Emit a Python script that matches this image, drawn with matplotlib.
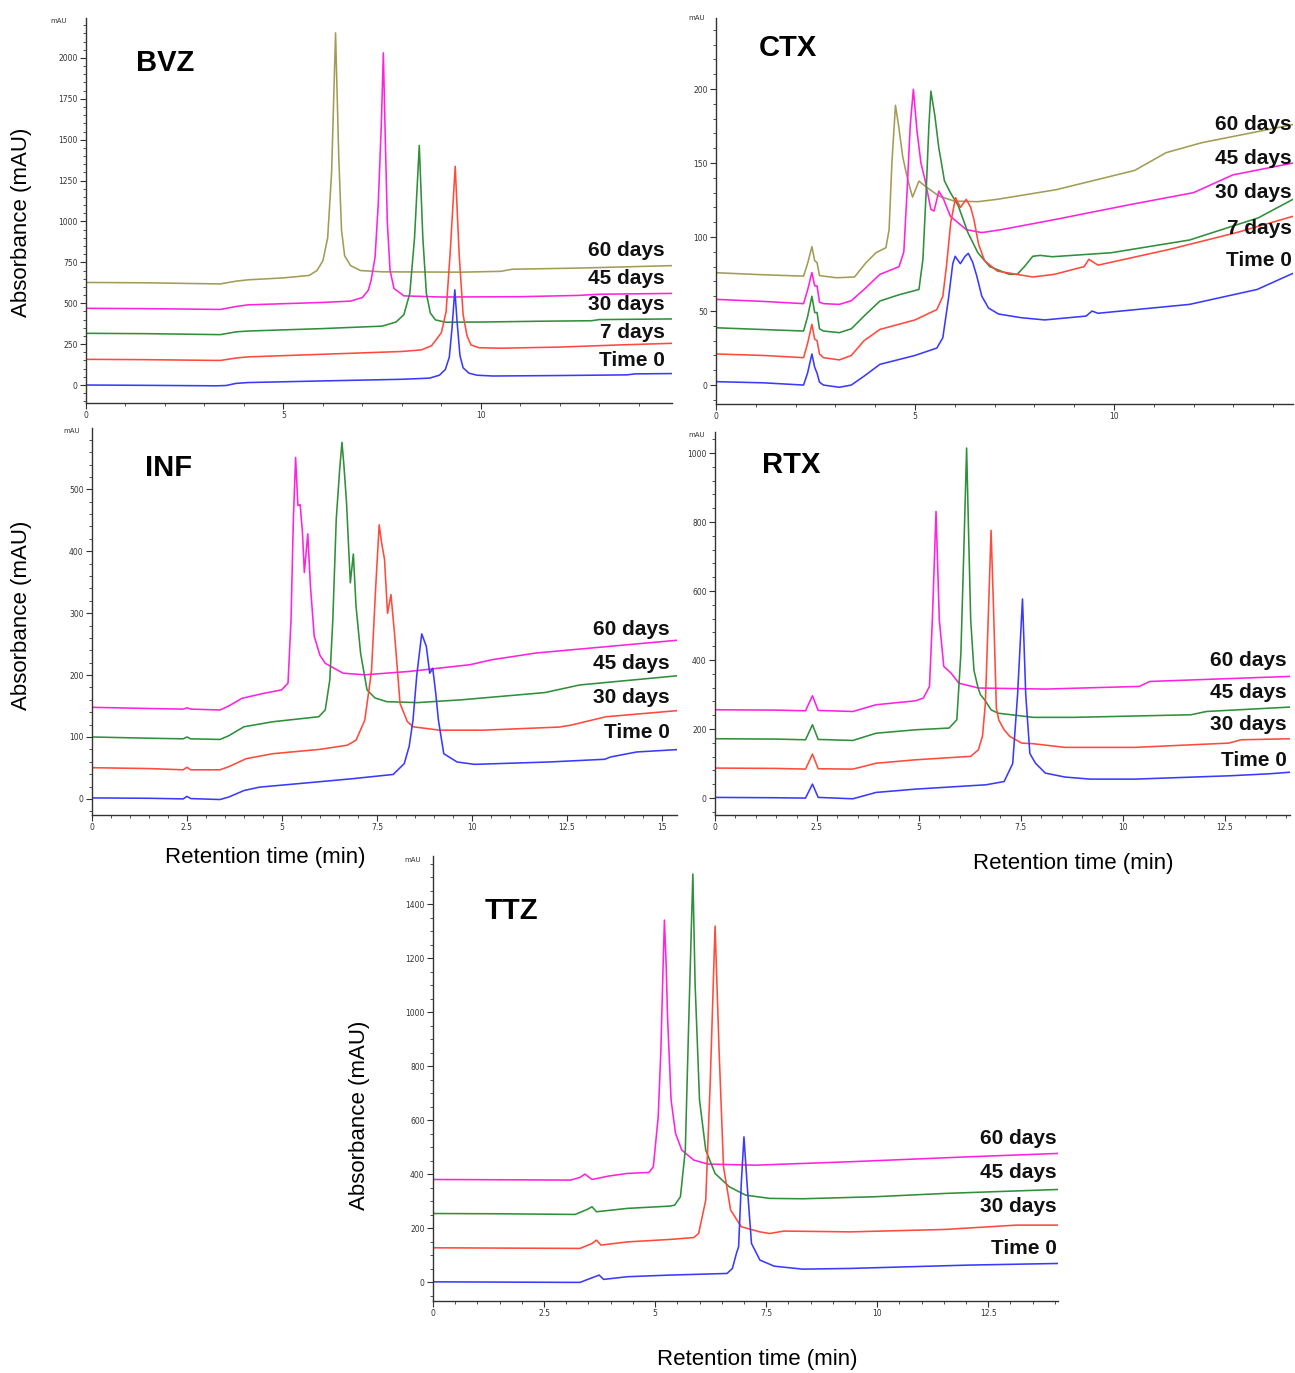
import matplotlib
matplotlib.use("Agg")
import matplotlib.pyplot as plt
from matplotlib.ticker import MultipleLocator, FuncFormatter

W, H = 1295, 1373

# colours used by the instrument software
OLIVE = '#a39c55'
MAGENTA = '#ff22e0'
GREEN = '#2f8f3a'
RED = '#ff4a3c'
BLUE = '#3a3aff'

# ---- BVZ traces (time min, absorbance mAU) ----
bvz_time0 = [(0, 0), (1.5, -2), (3.3, -5), (3.55, -3), (3.8, 10), (4.1, 15), (6, 25), (8, 35), (8.7, 42),
             (8.95, 60), (9.1, 95), (9.2, 170), (9.27, 350), (9.34, 582), (9.4, 380), (9.47, 180), (9.55, 105),
             (9.7, 72), (9.9, 60), (10.3, 55), (12, 58), (13.7, 62), (13.9, 68), (14.85, 70)]
bvz_7days = [(0, 157), (1.5, 155), (3.4, 150), (3.8, 165), (4.1, 172), (6, 188), (8, 205), (8.5, 215), (8.75, 240),
             (9.0, 320), (9.12, 450), (9.22, 800), (9.35, 1337), (9.45, 800), (9.55, 430), (9.65, 300), (9.75, 245),
             (9.95, 228), (10.5, 225), (12, 232), (13.5, 245), (14.85, 255)]
bvz_30days = [(0, 316), (1.5, 314), (3.4, 308), (3.8, 325), (4.1, 330), (6, 345), (7.5, 360), (7.85, 385),
              (8.05, 430), (8.2, 560), (8.32, 900), (8.44, 1465), (8.53, 900), (8.62, 560), (8.72, 440), (8.85, 398),
              (9.1, 384), (10, 385), (11.5, 390), (12.8, 393), (13, 400), (14.85, 404)]
bvz_45days = [(0, 469), (1.5, 467), (3.4, 462), (3.8, 480), (4.1, 490), (6, 505), (6.7, 513), (7.0, 535),
              (7.15, 580), (7.22, 640), (7.32, 780), (7.4, 1100), (7.48, 1600), (7.53, 2031), (7.58, 1500),
              (7.63, 1000), (7.7, 700), (7.8, 590), (8.05, 545), (9, 538), (11, 540), (12.5, 548), (13, 555),
              (14.85, 560)]
bvz_60days = [(0, 627), (1.5, 625), (3.4, 618), (3.8, 635), (4.1, 643), (5.0, 655), (5.65, 670), (5.85, 700),
              (6.0, 760), (6.12, 900), (6.22, 1300), (6.32, 2153), (6.4, 1400), (6.47, 950), (6.55, 790),
              (6.7, 730), (6.95, 700), (7.5, 692), (9.5, 690), (10.5, 695), (10.8, 708), (12.5, 715), (14.85, 730)]

# ---- CTX traces ----
ctx_time0 = [(0, 2.3), (1.2, 1.5), (2.2, 0), (2.3, 8), (2.41, 21), (2.48, 12), (2.54, 8), (2.6, 2), (2.7, 0),
             (3.1, -1.5), (3.4, 0), (3.72, 6), (4.12, 14), (5.0, 20), (5.55, 25), (5.7, 32), (5.84, 58), (5.95, 82),
             (6.01, 87), (6.14, 82), (6.26, 87), (6.34, 89), (6.45, 83), (6.55, 74), (6.68, 60), (6.85, 52),
             (7.1, 48), (7.67, 45.5), (8.26, 44), (9.3, 46.6), (9.45, 50), (9.6, 48.5), (11.9, 54.5), (13.6, 64.6),
             (14.5, 75.5)]
ctx_7days = [(0, 21), (1.2, 20), (2.2, 18.5), (2.3, 28), (2.41, 41), (2.48, 31), (2.54, 30), (2.6, 21), (2.7, 18.5),
             (3.1, 17), (3.4, 20), (3.72, 30), (4.12, 37.6), (5.0, 44), (5.55, 51), (5.7, 60), (5.79, 80),
             (5.9, 110), (6.02, 126.6), (6.14, 120), (6.29, 125.5), (6.4, 120), (6.48, 112), (6.6, 95), (6.75, 84),
             (7.07, 77), (7.96, 73), (8.5, 74.8), (9.25, 80), (9.37, 85), (9.6, 81), (11.4, 91.7), (13.08, 103),
             (14.5, 114)]
ctx_30days = [(0, 38.7), (1.2, 37.5), (2.2, 36.5), (2.3, 46), (2.41, 60), (2.48, 49), (2.54, 49), (2.6, 38),
              (2.7, 36.5), (3.1, 35.4), (3.4, 38), (3.72, 46.6), (4.12, 56.8), (4.6, 61), (5.1, 64.6), (5.2, 85),
              (5.28, 130), (5.35, 175), (5.40, 198.6), (5.5, 182), (5.6, 160), (5.65, 152.5), (5.74, 138),
              (5.89, 130), (6.09, 121), (6.33, 103), (6.58, 89.4), (6.88, 80), (7.37, 74.8), (7.57, 74.8),
              (7.75, 80), (7.96, 87), (8.15, 87.6), (8.45, 86.7), (9.93, 89.4), (11.9, 98), (13.63, 113),
              (14.5, 125.5)]
ctx_45days = [(0, 57.9), (1.2, 56.5), (2.2, 55), (2.3, 64), (2.41, 76), (2.48, 67), (2.54, 67), (2.6, 56),
              (2.7, 55), (3.1, 54.5), (3.4, 57), (3.72, 64.6), (4.12, 74.8), (4.6, 80), (4.72, 90), (4.8, 130),
              (4.88, 175), (4.96, 199.8), (5.05, 172), (5.15, 150), (5.25, 139), (5.4, 118.7), (5.48, 117.6),
              (5.6, 131), (5.72, 125.5), (5.89, 114), (6.29, 105), (6.68, 103), (7.17, 105), (8.55, 112),
              (10.42, 122), (12.0, 130), (12.99, 142), (14.5, 150)]
ctx_60days = [(0, 75.9), (1.2, 74.5), (2.2, 73.6), (2.3, 82), (2.41, 93.5), (2.48, 84), (2.54, 82.7), (2.6, 74),
              (2.7, 73.6), (3.03, 72.5), (3.48, 73), (3.77, 82.7), (4.02, 89.4), (4.27, 92.8), (4.35, 105),
              (4.42, 150), (4.51, 189), (4.59, 175), (4.69, 154.7), (4.76, 145.7), (4.86, 134.5), (4.94, 127),
              (5.10, 137.8), (5.25, 134.5), (5.6, 127.7), (5.99, 124.3), (6.58, 123.9), (7.07, 125.5), (8.55, 132),
              (10.52, 145), (11.31, 157), (12.2, 163.7), (14.5, 176)]

# ---- INF traces ----
inf_time0 = [(0, 1.6), (1.5, 1), (2.4, 0), (2.5, 4), (2.6, 0.5), (3.37, -1), (3.6, 3), (4.0, 13.5), (4.41, 19),
             (5.5, 25), (6.84, 32.5), (7.93, 39.5), (8.22, 57), (8.35, 85), (8.45, 127), (8.55, 200), (8.68, 266.5),
             (8.8, 246.5), (8.89, 203), (8.97, 211), (9.05, 170), (9.12, 127), (9.26, 73), (9.61, 59.6),
             (10.07, 55.8), (12.03, 59.6), (13.5, 64), (13.65, 67.7), (14.34, 75.8), (15.4, 79.6)]
inf_30days = [(0, 50.4), (1.5, 49), (2.4, 47), (2.5, 51), (2.6, 47), (3.37, 47), (3.6, 52), (4.06, 65),
              (4.76, 73), (6.0, 80), (6.72, 86.7), (6.95, 94.8), (7.18, 127), (7.3, 180), (7.36, 208.5),
              (7.47, 344), (7.56, 442.6), (7.62, 415), (7.70, 387), (7.78, 299.6), (7.87, 330), (7.97, 262.7),
              (8.11, 154), (8.3, 125), (8.45, 116.5), (9.15, 111), (10.3, 111), (12.3, 116), (12.6, 119),
              (13.53, 132.7), (15.4, 142.5)]
inf_45days = [(0, 100), (1.5, 98), (2.4, 97), (2.5, 100), (2.6, 97), (3.37, 96), (3.6, 102), (4.0, 116.5),
              (4.76, 124.6), (5.97, 132.7), (6.14, 143.6), (6.26, 192), (6.34, 290), (6.43, 452), (6.52, 532),
              (6.58, 575.8), (6.63, 540), (6.70, 479), (6.80, 349), (6.88, 395.5), (6.95, 311.5), (7.07, 235.6),
              (7.24, 176), (7.45, 163), (7.76, 157), (8.57, 155.5), (9.72, 160), (11.92, 171.7), (12.84, 184),
              (15.4, 198.8)]
inf_60days = [(0, 147.9), (1.5, 146), (2.4, 145), (2.5, 147), (2.6, 145), (3.37, 143.6), (3.6, 150),
              (3.95, 162.5), (4.53, 170.6), (4.99, 176), (5.16, 187), (5.24, 290), (5.3, 450), (5.36, 551.5),
              (5.42, 474), (5.48, 475), (5.54, 430.6), (5.59, 365.6), (5.68, 428), (5.75, 344), (5.85, 262.7),
              (6.0, 232), (6.14, 219), (6.61, 203), (7.18, 200.4), (8.34, 205.8), (9.95, 216.7), (10.53, 224.8),
              (11.69, 235.6), (15.4, 256.2)]

# ---- RTX traces ----
rtx_time0 = [(0, 2), (1.5, 1), (2.22, 0), (2.39, 40.6), (2.53, 2), (3.38, -2), (3.95, 16.4), (4.92, 26),
             (6.65, 38.6), (7.09, 48), (7.3, 100), (7.42, 300), (7.54, 577), (7.62, 300), (7.72, 130), (7.76, 121),
             (7.86, 101), (8.1, 72.5), (8.58, 61), (9.2, 55), (10.3, 55), (12.63, 64.7), (13.6, 70.5), (14.1, 75)]
rtx_30days = [(0, 87), (1.5, 86), (2.22, 84), (2.39, 127.5), (2.53, 85), (3.38, 84), (3.95, 101), (4.92, 111),
              (6.27, 121), (6.46, 140), (6.56, 180), (6.63, 275), (6.7, 520), (6.77, 776), (6.83, 550), (6.9, 260),
              (6.96, 226), (7.09, 198), (7.23, 178.7), (7.52, 159.4), (7.81, 157.5), (8.58, 147), (10.3, 147),
              (12.6, 159.4), (12.9, 169), (14.1, 172)]
rtx_45days = [(0, 172), (1.5, 171), (2.22, 169), (2.39, 212.6), (2.53, 170), (3.38, 167), (3.95, 188),
              (4.92, 198), (5.74, 203), (5.93, 227), (6.03, 420), (6.1, 710), (6.17, 1014.5), (6.22, 760),
              (6.27, 517), (6.35, 370), (6.45, 320), (6.51, 299.5), (6.61, 285), (6.77, 256), (6.94, 246),
              (7.81, 234), (8.8, 234), (11.67, 241.5), (12.05, 251), (14.1, 263.8)]
rtx_60days = [(0, 256), (1.5, 255), (2.22, 253), (2.39, 296.6), (2.53, 254), (3.38, 251), (3.95, 270.5),
              (4.92, 282), (5.11, 290), (5.26, 323.7), (5.33, 517), (5.42, 831), (5.50, 517), (5.61, 381.6),
              (5.79, 362), (5.98, 333), (6.46, 319), (8.1, 316), (10.41, 323.7), (10.66, 338), (14.1, 352.7)]

# ---- TTZ traces ----
ttz_time0 = [(0, 1), (1.5, 0), (3.0, -1), (3.31, -1), (3.58, 16), (3.74, 26), (3.84, 10), (4.38, 20), (5.34, 26),
             (6.62, 32), (6.74, 50.6), (6.83, 106), (6.88, 131), (6.94, 365), (7.0, 538), (7.07, 365), (7.17, 143),
             (7.36, 81.5), (7.68, 59), (8.32, 48), (9.39, 50.6), (12.06, 63), (14.07, 69)]
ttz_30days = [(0, 127), (1.5, 126), (3.31, 124.7), (3.58, 143), (3.68, 155.6), (3.78, 137), (4.38, 149),
              (5.34, 158), (5.87, 165), (5.98, 180), (6.14, 303.7), (6.24, 736), (6.35, 1318.5), (6.44, 859),
              (6.54, 427), (6.70, 266.7), (6.94, 205), (7.36, 186), (7.58, 180), (7.9, 189), (9.39, 186),
              (11.53, 195), (13.13, 211), (14.07, 211)]
ttz_45days = [(0, 254), (1.5, 253), (3.2, 250.6), (3.47, 269), (3.58, 279), (3.68, 260.5), (4.38, 273),
              (5.34, 281.5), (5.44, 285), (5.57, 316), (5.68, 489), (5.76, 983), (5.85, 1511), (5.90, 1106),
              (6.0, 674), (6.14, 489), (6.35, 402.5), (6.67, 353), (7.04, 322), (7.58, 310), (8.32, 308.6),
              (9.93, 316), (11.53, 328.4), (14.07, 343)]
ttz_60days = [(0, 380), (1.5, 379), (3.1, 377.8), (3.31, 387.7), (3.42, 400), (3.58, 380), (3.95, 392.6),
              (4.38, 402.5), (4.86, 406), (4.96, 427), (5.07, 612), (5.13, 859), (5.18, 1170), (5.21, 1340.7),
              (5.25, 1168), (5.28, 982.7), (5.36, 674), (5.46, 550.6), (5.6, 489), (5.87, 452), (6.19, 437),
              (7.26, 433), (9.39, 445.7), (12.06, 464), (14.07, 476.5)]

five_labels = ['60 days', '45 days', '30 days', '7 days', 'Time 0']
four_labels = ['60 days', '45 days', '30 days', 'Time 0']

# panel table: name, pixel box (left, top, right, bottom), xlim, ylim, x major/minor, y major/minor,
# traces, colours, labels, label pixel positions, title pos, mAU pos
panels = [
    dict(name='BVZ', box=(86, 18, 672, 403), xlim=(0, 14.84), ylim=(-110, 2244), xt=(5, 1), yt=(250, 50),
         traces=[bvz_60days, bvz_45days, bvz_30days, bvz_7days, bvz_time0],
         colors=[OLIVE, MAGENTA, GREEN, RED, BLUE], labels=five_labels,
         lab_x=665, lab_y=[251, 279, 305, 332, 360], title=(165, 63), mau=(67, 21)),
    dict(name='CTX', box=(716, 18, 1293, 404), xlim=(0, 14.5), ylim=(-12.8, 248), xt=(5, 1), yt=(50, 10),
         traces=[ctx_60days, ctx_45days, ctx_30days, ctx_7days, ctx_time0],
         colors=[OLIVE, MAGENTA, GREEN, RED, BLUE], labels=five_labels,
         lab_x=1292, lab_y=[124, 159, 192, 228, 261], title=(788, 48), mau=(705, 18)),
    dict(name='INF', box=(92, 428, 677, 815), xlim=(0, 15.4), ylim=(-26, 599), xt=(2.5, 0.5), yt=(100, 20),
         traces=[inf_60days, inf_45days, inf_30days, inf_time0],
         colors=[MAGENTA, GREEN, RED, BLUE], labels=four_labels,
         lab_x=670, lab_y=[630, 663, 697, 733], title=(169, 468), mau=(80, 431)),
    dict(name='RTX', box=(715, 432, 1290, 815), xlim=(0, 14.1), ylim=(-49, 1061), xt=(2.5, 0.5), yt=(200, 40),
         traces=[rtx_60days, rtx_45days, rtx_30days, rtx_time0],
         colors=[MAGENTA, GREEN, RED, BLUE], labels=four_labels,
         lab_x=1287, lab_y=[660, 692, 725, 761], title=(791, 465), mau=(705, 435)),
    dict(name='TTZ', box=(433, 856, 1058, 1301), xlim=(0, 14.07), ylim=(-70, 1578), xt=(2.5, 0.5), yt=(200, 50),
         traces=[ttz_60days, ttz_45days, ttz_30days, ttz_time0],
         colors=[MAGENTA, GREEN, RED, BLUE], labels=four_labels,
         lab_x=1057, lab_y=[1139, 1173, 1207, 1248], title=(511, 911), mau=(421, 860)),
]

SANS = ['Liberation Sans', 'DejaVu Sans']


def fx(x):
    return x / W


def fy(y):
    return 1 - y / H


def tick_fmt(v, pos):
    return f"{v:g}"


fig = plt.figure(figsize=(W / 100, H / 100), dpi=100)

for p in panels:
    l, t, r, b = p['box']
    ax = fig.add_axes([fx(l), fy(b), (r - l) / W, (b - t) / H])
    for pts, c in zip(p['traces'], p['colors']):
        xs = [q[0] for q in pts]
        ys = [q[1] for q in pts]
        ax.plot(xs, ys, color=c, lw=1.15, solid_joinstyle='round')
    ax.set_xlim(*p['xlim'])
    ax.set_ylim(*p['ylim'])
    for s in ('top', 'right'):
        ax.spines[s].set_visible(False)
    for s in ('left', 'bottom'):
        ax.spines[s].set_color('#333333')
        ax.spines[s].set_linewidth(1.0)
    ax.xaxis.set_major_locator(MultipleLocator(p['xt'][0]))
    ax.xaxis.set_minor_locator(MultipleLocator(p['xt'][1]))
    ax.yaxis.set_major_locator(MultipleLocator(p['yt'][0]))
    ax.yaxis.set_minor_locator(MultipleLocator(p['yt'][1]))
    ax.xaxis.set_major_formatter(FuncFormatter(tick_fmt))
    ax.yaxis.set_major_formatter(FuncFormatter(tick_fmt))
    ax.tick_params(which='major', direction='out', length=4, width=0.8, labelsize=5.5,
                   colors='#333333', pad=2)
    ax.tick_params(which='minor', direction='out', length=2.5, width=0.6, colors='#333333')
    ax.set_facecolor('none')

    fig.text(fx(p['title'][0]), fy(p['title'][1]), p['name'], fontsize=21, fontweight='bold',
             family=SANS, ha='center', va='center')
    fig.text(fx(p['mau'][0]), fy(p['mau'][1]), 'mAU', fontsize=5, ha='right', va='center', color='#333333')
    for lab, ly in zip(p['labels'], p['lab_y']):
        fig.text(fx(p['lab_x']), fy(ly), lab, fontsize=15, fontweight='bold', family=SANS,
                 ha='right', va='center', color='#111111')

# axis titles
for x, y in [(22, 222), (22, 615), (360, 1115)]:
    fig.text(fx(x), fy(y), 'Absorbance (mAU)', fontsize=16, family=SANS, rotation=90,
             ha='center', va='center')
for x, y in [(265, 858), (1073, 863), (757, 1360)]:
    fig.text(fx(x), fy(y), 'Retention time (min)', fontsize=16, family=SANS, ha='center', va='center')

fig.savefig('out.png', dpi=100, facecolor='white')
